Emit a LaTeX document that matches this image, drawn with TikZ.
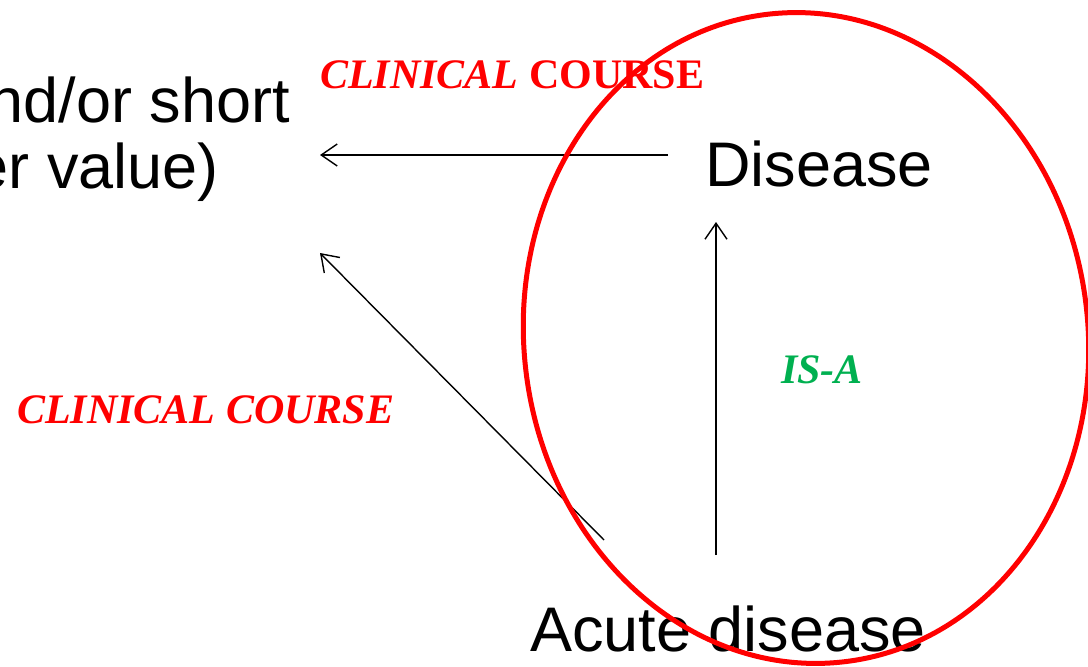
\documentclass[tikz,border=0pt]{standalone}
\usepackage{fontspec}
\setmainfont{Liberation Sans}
\newfontfamily\serifrm{Liberation Serif}
\usetikzlibrary{arrows.meta}
\definecolor{isagreen}{RGB}{0,176,80}
\begin{document}
\begin{tikzpicture}[x=1pt,y=1pt,
  big/.style={font=\fontsize{63}{66}\selectfont, inner sep=0pt},
  rel/.style={font=\serifrm\bfseries\fontsize{42}{46}\selectfont, inner sep=0pt},
  conn/.style={line width=1.4pt, -{Straight Barb[length=16pt,width=22pt,line width=1.4pt]}}]
\useasboundingbox (0,0) rectangle (1088,-667);
\node[big, anchor=base east] (t1) at (290,-122) {nd/or short};
\node[big, anchor=base east] (t2) at (219,-188) {er value)};
\node[big, anchor=base west] (dis) at (705,-186) {Disease};
\node[big, anchor=base west] (acu) at (530,-651) {Acute disease};
\coordinate (dstart) at (668,-155);
\coordinate (dend) at (320,-155);
\coordinate (astart) at (604,-540);
\coordinate (aend) at (320,-253);
\coordinate (vstart) at (716,-555);
\coordinate (vend) at (716,-222);
\draw[conn] (dstart) -- (dend);
\draw[conn] (astart) -- (aend);
\draw[conn] (vstart) -- (vend);
\node[rel, text=red, anchor=base west] (cc1) at (320,-88) {\itshape CLINICAL \upshape COURSE};
\node[rel, text=red, anchor=base west] (cc2) at (17,-423) {\itshape CLINICAL COURSE};
\node[rel, text=isagreen, anchor=base west] (isa) at (781,-383) {\itshape IS-A};
\draw[red, line width=5pt, rotate around={7:(806,-338)}] (806,-338) ellipse [x radius=282, y radius=326];
\end{tikzpicture}
\end{document}
